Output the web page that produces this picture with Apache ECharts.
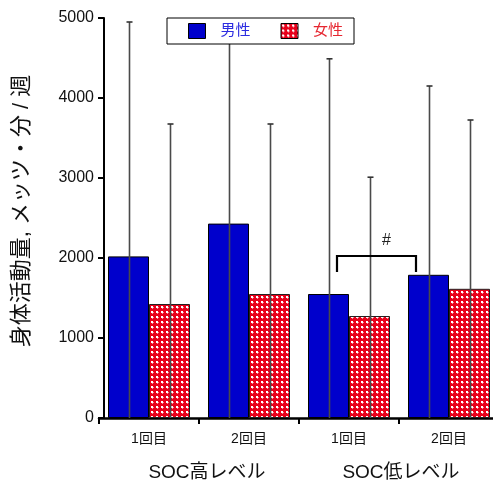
<!DOCTYPE html>
<html>
<head>
<meta charset="utf-8">
<script src="https://cdn.jsdelivr.net/npm/echarts@6/dist/echarts.min.js"></script>
<style>
  html, body { margin: 0; padding: 0; background: #fff; }
  #chart { width: 493px; height: 485px; }
</style>
</head>
<body>
<div id="chart"></div>
<script>
// Visit labels (inner axis) and SOC level groups (outer axis)
const visits = ['1回目', '2回目', '1回目', '2回目'];
const socLevels = ['SOC高レベル', 'SOC低レベル'];

// Mean physical activity and upper SD per group
const maleMeans = [2020, 2430, 1550, 1790];
const maleUpper = [4950, 4900, 4490, 4150];
const femaleMeans = [1425, 1550, 1275, 1615];
const femaleUpper = [3675, 3675, 3010, 3725];

const seriesNames = ['男性', '女性'];
const yTicks = [0, 1000, 2000, 3000, 4000, 5000];
const yTitle = '身体活動量, メッツ・分 / 週';

// Significance bracket between the two visits of the low-SOC group
const bracketFrom = 2;
const bracketTo = 3;
const bracketTop = 2025;
const bracketFoot = 1825;
const bracketMark = '#';

const FONT = '"Liberation Sans", Arial, "Noto Sans CJK JP", sans-serif';

// Red/white check fill for the female bars
function makeCheck() {
  const c = document.createElement('canvas');
  c.width = 5; c.height = 5;
  const g = c.getContext('2d');
  g.fillStyle = '#e8001a';
  g.fillRect(0, 0, 5, 5);
  g.fillStyle = '#ffffff';
  g.fillRect(1, 1, 2, 2);
  g.fillStyle = '#f48a94';
  g.fillRect(3, 2, 1, 1);
  g.fillRect(2, 3, 1, 1);
  return c;
}
const checkFill = { image: makeCheck(), repeat: 'repeat' };

const chart = echarts.init(document.getElementById('chart'), null, { renderer: 'canvas' });

function errorSeries(values, side) {
  return {
    type: 'custom',
    z: 3,
    silent: true,
    data: values.map((v, i) => [i, v]),
    renderItem: function (params, api) {
      const band = api.size([1, 0])[0];
      const base = api.coord([api.value(0), 0]);
      const top = api.coord([api.value(0), api.value(1)]);
      const x = Math.round(base[0] + side * band * 0.205) + 0.5;
      return {
        type: 'group',
        children: [
          { type: 'line', shape: { x1: x, y1: base[1], x2: x, y2: top[1] },
            style: { stroke: '#4a4a4a', lineWidth: 1.6 } },
          { type: 'line', shape: { x1: x - 3, y1: top[1], x2: x + 3, y2: top[1] },
            style: { stroke: '#333', lineWidth: 1.6 } }
        ]
      };
    }
  };
}

const option = {
  backgroundColor: '#fff',
  animation: false,
  textStyle: { fontFamily: FONT },
  grid: { left: 99, width: 400, top: 18, bottom: 67, outerBoundsMode: 'none' },
  legend: {
    left: 167, top: 18,
    padding: [5, 11, 5, 21],
    itemGap: 30,
    itemWidth: 17, itemHeight: 15,
    icon: 'rect',
    backgroundColor: '#fff',
    borderColor: '#000', borderWidth: 1, borderRadius: 0,
    z: 10,
    itemStyle: { borderColor: '#000', borderWidth: 1 },
    data: [
      { name: seriesNames[0], icon: 'rect', textStyle: { color: '#2c2ce0' } },
      { name: seriesNames[1], icon: 'rect', textStyle: { color: '#e62630' } }
    ],
    textStyle: { fontSize: 15, fontFamily: FONT, padding: [0, 0, 0, 10] }
  },
  xAxis: [
    {
      type: 'category', data: visits, offset: 2,
      axisLine: { show: true, lineStyle: { color: '#000', width: 2.5 } },
      axisTick: { show: true, length: 6, lineStyle: { color: '#000', width: 2 } },
      axisLabel: { color: '#111', fontSize: 14, margin: 12, fontFamily: FONT }
    },
    {
      type: 'category', position: 'bottom', offset: 41,
      data: [
        { value: socLevels[0], textStyle: { padding: [0, 0, 0, 16] } },
        { value: socLevels[1], textStyle: { padding: [0, 0, 0, 4] } }
      ],
      axisLine: { show: false }, axisTick: { show: false },
      axisLabel: { color: '#111', fontSize: 19, margin: 4, fontFamily: FONT }
    }
  ],
  yAxis: {
    type: 'value', min: yTicks[0], max: yTicks[yTicks.length - 1], interval: 1000,
    offset: -5,
    name: yTitle, nameLocation: 'middle', nameGap: 71, nameRotate: 90,
    nameTextStyle: { color: '#111', fontSize: 22, fontFamily: FONT, padding: [0, 0, 0, 14] },
    axisLine: { show: true, lineStyle: { color: '#000', width: 2 } },
    axisTick: { show: true, length: 6, lineStyle: { color: '#000', width: 2 } },
    axisLabel: { color: '#111', fontSize: 16, margin: 10, fontFamily: FONT,
                 formatter: function (v) { return String(v); } },
    splitLine: { show: false }
  },
  series: [
    {
      name: seriesNames[0], type: 'bar', data: maleMeans, xAxisIndex: 0,
      barGap: 0, barCategoryGap: '18%',
      itemStyle: { color: '#0000cc', borderColor: '#000', borderWidth: 1 }
    },
    {
      name: seriesNames[1], type: 'bar', data: femaleMeans, xAxisIndex: 0,
      barGap: 0, barCategoryGap: '18%',
      itemStyle: { color: checkFill, borderColor: '#222', borderWidth: 1 }
    },
    errorSeries(maleUpper, -1),
    errorSeries(femaleUpper, 1),
    {
      type: 'custom', z: 4, silent: true,
      data: [[bracketFrom, bracketTo, bracketTop, bracketFoot]],
      renderItem: function (params, api) {
        const band = api.size([1, 0])[0];
        const l = api.coord([api.value(0), api.value(2)]);
        const r = api.coord([api.value(1), api.value(2)]);
        const foot = api.coord([api.value(0), api.value(3)])[1];
        const xl = l[0] - band * 0.12;
        const xr = r[0] - band * 0.33;
        return {
          type: 'group',
          children: [
            { type: 'polyline',
              shape: { points: [[xl, foot], [xl, l[1]], [xr, l[1]], [xr, foot]] },
              style: { stroke: '#000', lineWidth: 2.2, fill: null } },
            { type: 'text',
              style: { text: bracketMark, x: (xl + xr) / 2 + 10, y: l[1] - 7,
                       align: 'center', verticalAlign: 'bottom',
                       fontSize: 16, fontFamily: FONT, fill: '#222' } }
          ]
        };
      }
    }
  ]
};

chart.setOption(option);
</script>
</body>
</html>
